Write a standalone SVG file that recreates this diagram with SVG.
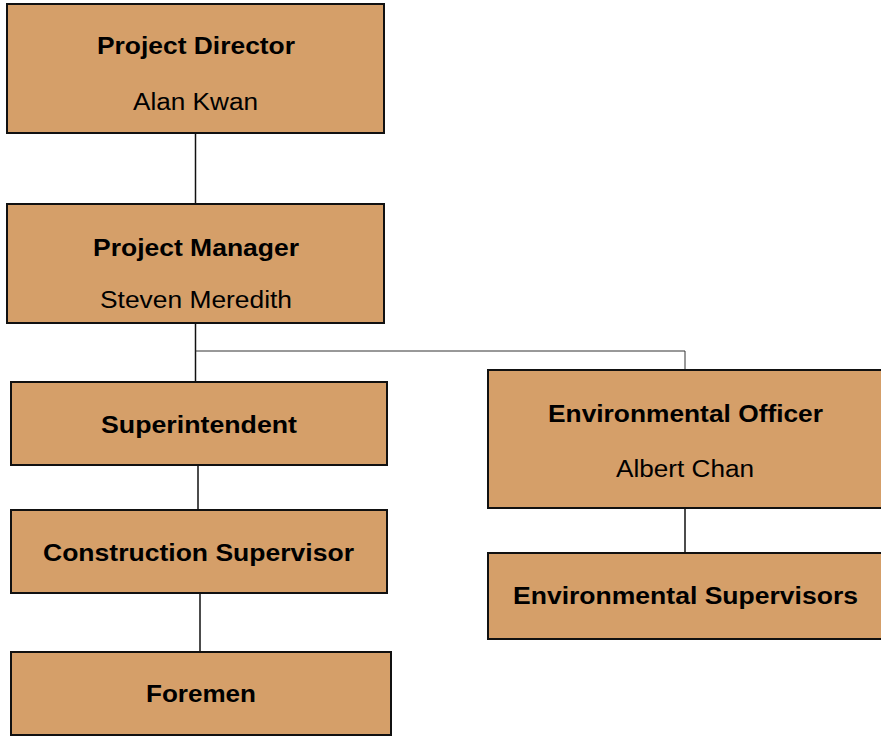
<svg xmlns="http://www.w3.org/2000/svg" width="881" height="736" viewBox="0 0 881 736">
<style>
.box{fill:#D59F69;stroke:#111;stroke-width:2}
.t{font-family:"Liberation Sans",Arial,sans-serif;font-size:23.5px;fill:#000;text-anchor:middle}
.b{font-weight:bold}
.c{stroke:#111;stroke-width:1.5;fill:none}
.h{stroke:#333;stroke-width:1;fill:none}
</style>
<rect width="881" height="736" fill="#fff"/>
<g id="connectors">
<line class="c" x1="195.5" y1="134" x2="195.5" y2="204"/>
<line class="c" x1="195.5" y1="323" x2="195.5" y2="382"/>
<polyline class="h" points="195.5,351 685,351 685,370"/>
<line class="c" x1="198" y1="465" x2="198" y2="510"/>
<line class="c" x1="200" y1="593" x2="200" y2="652"/>
<line class="c" x1="685" y1="508" x2="685" y2="553"/>
</g>
<g id="project-director">
<rect class="box" x="7" y="4" width="377" height="129"/>
<text class="t b" x="196" y="54" textLength="198" lengthAdjust="spacingAndGlyphs">Project Director</text>
<text class="t" x="195.5" y="110" textLength="125" lengthAdjust="spacingAndGlyphs">Alan Kwan</text>
</g>
<g id="project-manager">
<rect class="box" x="7" y="204" width="377" height="119"/>
<text class="t b" x="196" y="256" textLength="206" lengthAdjust="spacingAndGlyphs">Project Manager</text>
<text class="t" x="196" y="307.5" textLength="192" lengthAdjust="spacingAndGlyphs">Steven Meredith</text>
</g>
<g id="superintendent">
<rect class="box" x="11" y="382" width="376" height="83"/>
<text class="t b" x="199" y="433" textLength="196" lengthAdjust="spacingAndGlyphs">Superintendent</text>
</g>
<g id="construction-supervisor">
<rect class="box" x="11" y="510" width="376" height="83"/>
<text class="t b" x="198.5" y="560.5" textLength="311" lengthAdjust="spacingAndGlyphs">Construction Supervisor</text>
</g>
<g id="foremen">
<rect class="box" x="11" y="652" width="380" height="83"/>
<text class="t b" x="201" y="702" textLength="110" lengthAdjust="spacingAndGlyphs">Foremen</text>
</g>
<g id="environmental-officer">
<rect class="box" x="488" y="370" width="400" height="138"/>
<text class="t b" x="685.5" y="421.5" textLength="275" lengthAdjust="spacingAndGlyphs">Environmental Officer</text>
<text class="t" x="685" y="476.5" textLength="138" lengthAdjust="spacingAndGlyphs">Albert Chan</text>
</g>
<g id="environmental-supervisors">
<rect class="box" x="488" y="553" width="400" height="86"/>
<text class="t b" x="685.5" y="604" textLength="345" lengthAdjust="spacingAndGlyphs">Environmental Supervisors</text>
</g>
</svg>
